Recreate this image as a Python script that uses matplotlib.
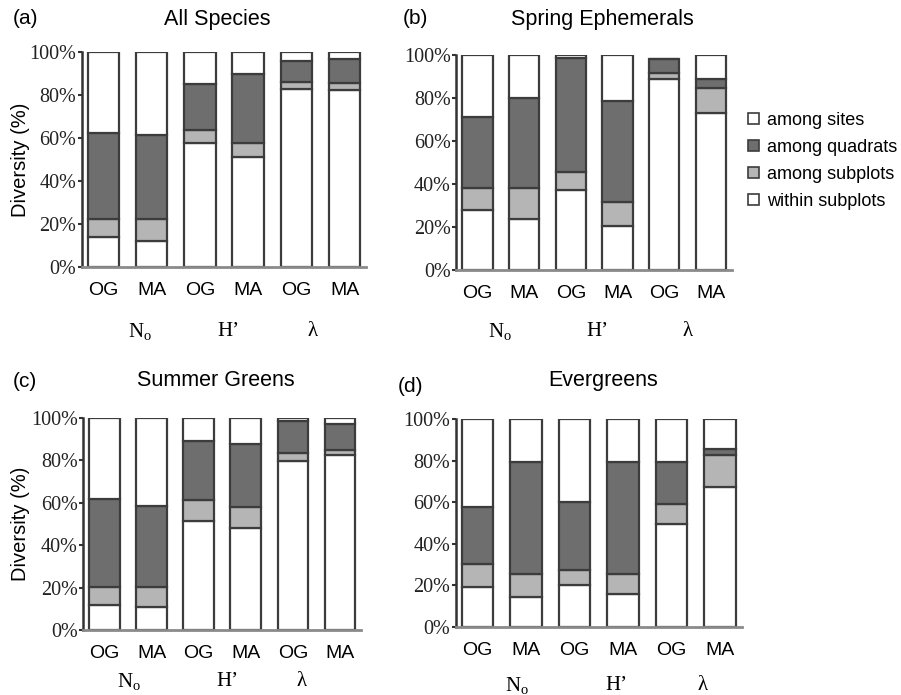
import matplotlib
matplotlib.use("Agg")
import matplotlib.pyplot as plt
import matplotlib.patches as mpatches
import matplotlib.transforms as mtransforms
import numpy as np

# ---------------------------------------------------------------------------
# Data: diversity partition (%) per bar, bars = OG/MA for N_o, H', lambda
# ---------------------------------------------------------------------------
CATEGORIES = ["OG", "MA", "OG", "MA", "OG", "MA"]
GROUPS = [r"N$_\mathregular{o}$", "H\u2019", "\u03bb"]
COMPONENTS = ["within subplots", "among subplots", "among quadrats", "among sites"]
LEGEND_ORDER = ["among sites", "among quadrats", "among subplots", "within subplots"]

# (a) All Species
a_within = [13.9, 11.9, 57.5, 51.3, 83.0, 82.5]
a_subplots = [8.4, 10.4, 6.2, 6.5, 3.0, 3.1]
a_quadrats = [39.8, 39.1, 21.6, 32.2, 9.7, 11.0]
a_sites = [37.9, 38.6, 14.7, 10.0, 4.3, 3.4]

# (b) Spring Ephemerals
b_within = [27.9, 23.7, 37.2, 20.5, 88.8, 72.9]
b_subplots = [10.1, 14.3, 8.2, 11.3, 3.0, 11.9]
b_quadrats = [33.3, 42.2, 53.0, 47.0, 6.2, 4.0]
b_sites = [28.7, 19.8, 1.6, 21.2, 0.0, 11.2]

# (c) Summer Greens
c_within = [11.8, 11.0, 51.2, 48.3, 79.5, 82.4]
c_subplots = [8.7, 9.5, 9.9, 9.5, 4.0, 2.6]
c_quadrats = [41.2, 38.2, 28.2, 29.9, 14.9, 12.2]
c_sites = [38.3, 41.3, 10.7, 12.3, 1.6, 2.8]

# (d) Evergreens
d_within = [19.3, 14.5, 20.4, 15.8, 49.4, 67.5]
d_subplots = [10.9, 10.9, 6.9, 9.6, 9.6, 15.0]
d_quadrats = [27.7, 53.7, 32.7, 53.7, 20.1, 3.2]
d_sites = [42.1, 20.9, 40.0, 20.9, 20.9, 14.3]

COLORS = {
    "within subplots": "white",
    "among subplots": "#b5b5b5",
    "among quadrats": "#6e6e6e",
    "among sites": "white",
}
EDGE = "#3c3c3c"

W, H = 901, 695
SANS = "Liberation Sans"
SERIF = "Liberation Serif"


def fx(x):
    return x / W


def fy(y):
    return 1 - y / H


# panel layout in pixels: bar0 centre, bar spacing, y(0%), y(100%)
PANELS = [
    dict(tag="(a)", title="All Species", data=(a_within, a_subplots, a_quadrats, a_sites),
         c0=103.5, dx=48.2, y0=267, y1=52, ylabel=True,
         tag_xy=(13, 18), title_xy=(217, 20), group_x=[0.76, 2.6, 4.33], group_y=332),
    dict(tag="(b)", title="Spring Ephemerals", data=(b_within, b_subplots, b_quadrats, b_sites),
         c0=477.5, dx=46.7, y0=270, y1=55, ylabel=False,
         tag_xy=(403, 18), title_xy=(602, 20), group_x=[0.48, 2.56, 4.49], group_y=332),
    dict(tag="(c)", title="Summer Greens", data=(c_within, c_subplots, c_quadrats, c_sites),
         c0=104.5, dx=47.1, y0=630, y1=418, ylabel=True,
         tag_xy=(13, 382), title_xy=(216, 381), group_x=[0.52, 2.62, 4.19], group_y=682),
    dict(tag="(d)", title="Evergreens", data=(d_within, d_subplots, d_quadrats, d_sites),
         c0=477.5, dx=48.5, y0=627, y1=419, ylabel=False,
         tag_xy=(398, 387), title_xy=(603, 380), group_x=[0.81, 2.86, 4.65], group_y=686),
]

XLIM = (-0.45, 5.45)
BAR_W = 0.65

fig = plt.figure(figsize=(W / 100, H / 100), dpi=100)

for p in PANELS:
    left = p["c0"] + XLIM[0] * p["dx"]
    width = (XLIM[1] - XLIM[0]) * p["dx"]
    ax = fig.add_axes([fx(left), fy(p["y0"]), width / W, (p["y0"] - p["y1"]) / H])

    x = np.arange(len(CATEGORIES))
    bottom = np.zeros(len(CATEGORIES))
    for name, vals in zip(COMPONENTS, p["data"]):
        vals = np.asarray(vals)
        ax.bar(x, vals, bottom=bottom, width=BAR_W, color=COLORS[name],
               edgecolor=EDGE, linewidth=1.6, zorder=2)
        bottom += vals

    ax.set_xlim(*XLIM)
    ax.set_ylim(0, 100)
    ax.set_yticks(np.arange(0, 101, 20))
    ax.set_yticklabels([f"{v}%" for v in range(0, 101, 20)],
                       fontfamily=SERIF, fontsize=14.5, color="#222222")
    ax.set_xticks(x)
    ax.set_xticklabels(CATEGORIES, fontfamily=SANS, fontsize=14)
    ax.tick_params(axis="x", length=0, pad=11)
    ax.tick_params(axis="y", length=3, width=1.5, color="#333333", pad=1)

    for s in ("top", "right"):
        ax.spines[s].set_visible(False)
    ax.spines["left"].set_color("#333333")
    ax.spines["left"].set_linewidth(1.8)
    ax.spines["bottom"].set_color("#8a8a8a")
    ax.spines["bottom"].set_linewidth(2)

    if p["ylabel"]:
        fig.text(fx(21), fy((p["y0"] + p["y1"]) / 2), "Diversity (%)", rotation=90,
                 ha="center", va="center", fontfamily=SANS, fontsize=14.5)

    # group labels under the category labels
    trans = mtransforms.blended_transform_factory(ax.transData, fig.transFigure)
    for gx, g in zip(p["group_x"], GROUPS):
        ax.text(gx, fy(p["group_y"]), g, transform=trans, ha="center", va="center",
                fontfamily=SERIF, fontsize=15)

    fig.text(fx(p["tag_xy"][0]), fy(p["tag_xy"][1]), p["tag"], ha="left", va="center",
             fontfamily=SANS, fontsize=15)
    fig.text(fx(p["title_xy"][0]), fy(p["title_xy"][1]), p["title"], ha="center",
             va="center", fontfamily=SANS, fontsize=15.5)

handles = [mpatches.Patch(facecolor=COLORS[n], edgecolor=EDGE, linewidth=1.2, label=n)
           for n in LEGEND_ORDER]
fig.legend(handles=handles, loc="center left", bbox_to_anchor=(fx(748), fy(161)),
           frameon=False, prop={"family": SANS, "size": 13},
           handlelength=0.6, handleheight=0.6, handletextpad=0.45,
           labelspacing=0.55, borderpad=0, borderaxespad=0)

fig.savefig("out.png", dpi=100)
